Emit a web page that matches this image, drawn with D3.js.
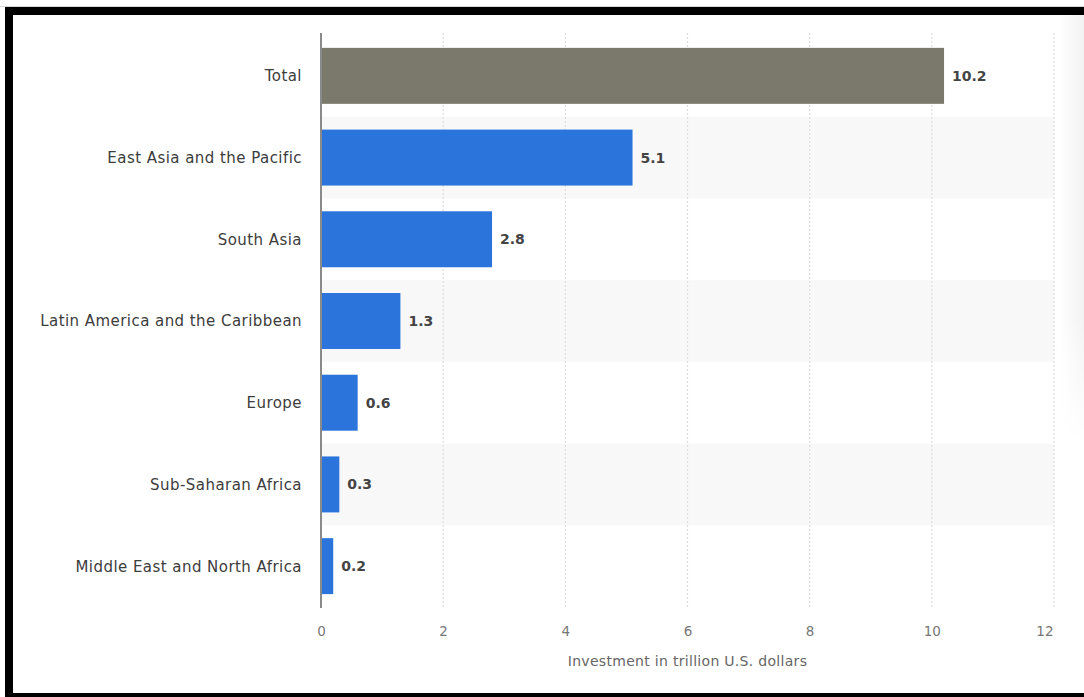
<!DOCTYPE html>
<html>
<head>
<meta charset="utf-8">
<script src="https://cdn.jsdelivr.net/npm/d3@7"></script>
<style>
html,body{margin:0;padding:0;background:#fff;}
svg{display:block;}
</style>
</head>
<body>
<svg id="chart" width="1084" height="697"></svg>
<script>
const categories = ["Total","East Asia and the Pacific","South Asia","Latin America and the Caribbean","Europe","Sub-Saharan Africa","Middle East and North Africa"];
const values = [10.2, 5.1, 2.8, 1.3, 0.6, 0.3, 0.2];
const valueLabels = ["10.2","5.1","2.8","1.3","0.6","0.3","0.2"];
const xTicks = [0,2,4,6,8,10,12];
const axisTitle = "Investment in trillion U.S. dollars";

(function(){
const svg = d3.select("#chart");
const W = 1084, H = 697;
const pL = 321, pR = 1054, pT = 35, pB = 607;

const x = d3.scaleLinear().domain([0,12]).range([pL,pR]);
const y = d3.scaleBand().domain(categories).range([pT,pB]).paddingInner(0.315).paddingOuter(0.1575);
const band = d3.scaleBand().domain(categories).range([pT,pB]);

// faint shadow on right
const defs = svg.append("defs");
const g1 = defs.append("linearGradient").attr("id","sh").attr("x1","0").attr("x2","1");
g1.append("stop").attr("offset","0").attr("stop-color","#fff");
g1.append("stop").attr("offset","1").attr("stop-color","#f2f2f2");
const g2 = defs.append("linearGradient").attr("id","fade").attr("x1","0").attr("x2","0").attr("y1","0").attr("y2","1");
g2.append("stop").attr("offset","0").attr("stop-color","#fff");
g2.append("stop").attr("offset","0.7").attr("stop-color","#fff");
g2.append("stop").attr("offset","1").attr("stop-color","#000");
defs.append("mask").attr("id","m").append("rect").attr("x",1060).attr("y",15).attr("width",24).attr("height",430).attr("fill","url(#fade)");
svg.append("rect").attr("x",1060).attr("y",15).attr("width",24).attr("height",430).attr("fill","url(#sh)").attr("mask","url(#m)");

// alternating bands
svg.append("g").selectAll("rect").data(categories.filter((d,i)=>i%2===1)).join("rect")
  .attr("x",pL).attr("y",d=>band(d)).attr("width",pR-pL).attr("height",band.bandwidth())
  .attr("fill","#f8f8f8");

// grid lines
svg.append("g").selectAll("line").data(xTicks.slice(1)).join("line")
  .attr("x1",d=>x(d)).attr("x2",d=>x(d)).attr("y1",33).attr("y2",607)
  .attr("stroke","#dcdcdc").attr("stroke-width",1.2).attr("stroke-dasharray","2,2");

// bars
svg.append("g").selectAll("rect").data(values).join("rect")
  .attr("x",x(0)).attr("y",(d,i)=>y(categories[i]))
  .attr("width",d=>x(d)-x(0)).attr("height",y.bandwidth())
  .attr("fill",(d,i)=>i===0?"#7b786c":"#2a74db");

// value labels
svg.append("g").selectAll("text").data(values).join("text")
  .attr("x",d=>x(d)+8).attr("y",(d,i)=>y(categories[i])+y.bandwidth()/2)
  .attr("dy","0.36em")
  .attr("font-family","DejaVu Sans").attr("font-size",14).attr("font-weight","bold")
  .attr("fill","#444").text((d,i)=>valueLabels[i]);

// category labels
svg.append("g").selectAll("text").data(categories).join("text")
  .attr("x",302).attr("y",d=>y(d)+y.bandwidth()/2).attr("dy","0.36em")
  .attr("text-anchor","end")
  .attr("font-family","DejaVu Sans").attr("font-size",15).attr("letter-spacing","0.45px")
  .attr("fill","#3c3c3c").text(d=>d);

// y axis line
svg.append("line").attr("x1",pL).attr("x2",pL).attr("y1",33).attr("y2",608)
  .attr("stroke","#8a8a8a").attr("stroke-width",2);

// x tick labels via axis
const xAxis = d3.axisBottom(x).tickValues(xTicks).tickSize(0).tickPadding(0).tickFormat(d3.format("d"));
const ax = svg.append("g").attr("transform","translate(0,626)").call(xAxis);
ax.select(".domain").remove();
ax.selectAll("text").attr("font-family","DejaVu Sans").attr("font-size",13.5).attr("fill","#777").attr("dy","0.71em")
  .attr("text-anchor",(d,i)=>i===xTicks.length-1?"end":"middle")
  .attr("dx",(d,i)=>i===xTicks.length-1?"-1":"0");

// axis title
svg.append("text").attr("x",(pL+pR)/2).attr("y",666).attr("text-anchor","middle")
  .attr("font-family","DejaVu Sans").attr("font-size",14).attr("letter-spacing","0.3px").attr("fill","#666")
  .text(axisTitle);

// frame
svg.append("line").attr("x1",0).attr("x2",W).attr("y1",6.5).attr("y2",6.5).attr("stroke","#d8d8d8").attr("stroke-width",1);
svg.append("rect").attr("x",9).attr("y",11).attr("width",1100).attr("height",686)
  .attr("fill","none").attr("stroke","#000").attr("stroke-width",8);
})();
</script>
</body>
</html>
